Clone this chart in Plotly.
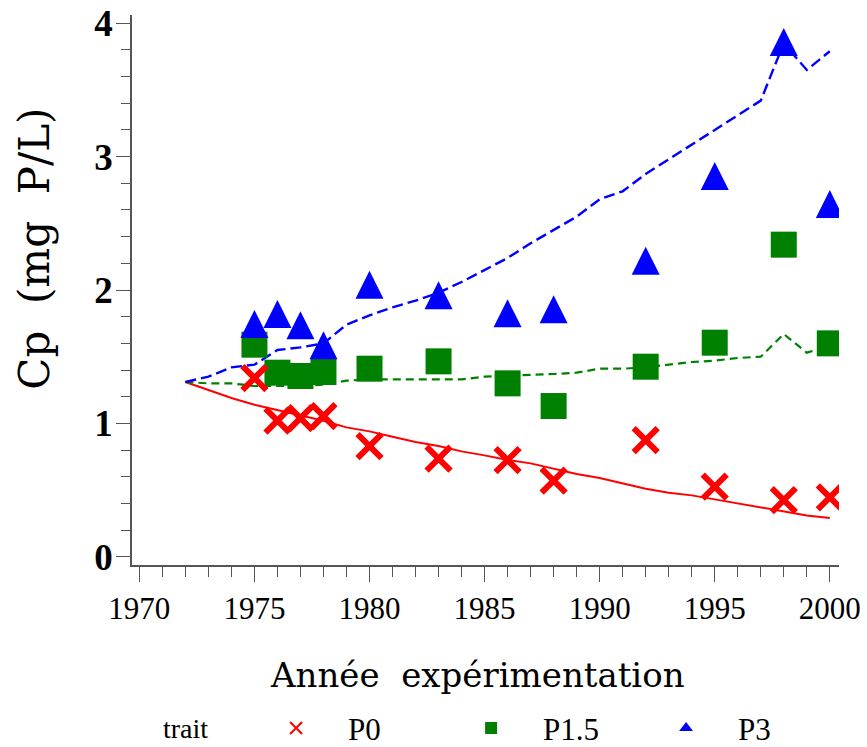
import plotly.graph_objects as go

# Observed phosphorus concentration per treatment
obs_years = [1975, 1976, 1977, 1978, 1980, 1983, 1986, 1988, 1992, 1995, 1998, 2000]
p0_obs = [1.34, 1.02, 1.04, 1.055, 0.83, 0.735, 0.725, 0.57, 0.875, 0.525, 0.425, 0.445]
p15_obs = [1.59, 1.38, 1.355, 1.385, 1.41, 1.465, 1.30, 1.13, 1.425, 1.605, 2.34, 1.60]
p3_obs = [1.745, 1.82, 1.735, 1.585, 2.04, 1.96, 1.825, 1.855, 2.22, 2.855, 3.86, 2.645]

# Simulated annual trajectories
model_years = [1972, 1973, 1974, 1975, 1976, 1977, 1978, 1979, 1980, 1981,
               1982, 1983, 1984, 1985, 1986, 1987, 1988, 1989, 1990, 1991,
               1992, 1993, 1994, 1995, 1996, 1997, 1998, 1999, 2000]
p0_model = [1.31, 1.25, 1.19, 1.14, 1.10, 1.06, 1.02, 0.97, 0.94, 0.90,
            0.86, 0.83, 0.79, 0.76, 0.725, 0.70, 0.66, 0.62, 0.59, 0.55,
            0.51, 0.48, 0.46, 0.43, 0.40, 0.37, 0.34, 0.31, 0.29]
p15_model = [1.31, 1.30, 1.30, 1.28, 1.28, 1.28, 1.29, 1.32, 1.33, 1.33,
             1.33, 1.33, 1.33, 1.35, 1.355, 1.36, 1.37, 1.38, 1.41, 1.41,
             1.42, 1.44, 1.46, 1.47, 1.49, 1.50, 1.67, 1.53, 1.58]
p3_model = [1.31, 1.35, 1.42, 1.44, 1.55, 1.57, 1.60, 1.74, 1.81, 1.87,
            1.92, 1.98, 2.06, 2.15, 2.24, 2.35, 2.45, 2.55, 2.68, 2.74,
            2.87, 2.98, 3.09, 3.20, 3.31, 3.42, 3.85, 3.65, 3.79]

RED = "#ff0000"
GREEN = "#008000"
BLUE = "#0000ff"
AXIS = "#555555"
SERIF = "Liberation Serif"
TITLE_FONT = "DejaVu Serif"

fig = go.Figure()

# model curves
fig.add_trace(go.Scatter(x=model_years, y=p0_model, mode="lines",
                         line=dict(color=RED, width=2), showlegend=False))
fig.add_trace(go.Scatter(x=model_years, y=p15_model, mode="lines",
                         line=dict(color=GREEN, width=2.2, dash="8px,5px"),
                         showlegend=False))
fig.add_trace(go.Scatter(x=model_years, y=p3_model, mode="lines",
                         line=dict(color=BLUE, width=2.4, dash="11px,5px"),
                         showlegend=False))

# observations
fig.add_trace(go.Scatter(x=obs_years, y=p15_obs, mode="markers",
                         marker=dict(symbol="square", size=26, color=GREEN,
                                     line=dict(width=0)),
                         showlegend=False))
fig.add_trace(go.Scatter(x=obs_years, y=p0_obs, mode="markers",
                         marker=dict(symbol="x-thin", size=24,
                                     line=dict(width=6, color=RED), color=RED),
                         showlegend=False))
fig.add_trace(go.Scatter(x=obs_years, y=p3_obs, mode="markers",
                         marker=dict(symbol="arrow-down", size=28, color=BLUE,
                                     angle=180, standoff=14,
                                     line=dict(width=0)),
                         showlegend=False))

# legend entries
fig.add_trace(go.Scatter(x=[None], y=[None], mode="markers", name="P0",
                         marker=dict(symbol="x-thin", size=12,
                                     line=dict(width=3, color=RED), color=RED)))
fig.add_trace(go.Scatter(x=[None], y=[None], mode="markers", name="P1.5",
                         marker=dict(symbol="square", size=12, color=GREEN)))
fig.add_trace(go.Scatter(x=[None], y=[None], mode="markers", name="P3",
                         marker=dict(symbol="triangle-up", size=13, color=BLUE)))

fig.update_layout(
    width=867, height=747,
    margin=dict(l=132, r=28, t=15, b=182, autoexpand=False),
    plot_bgcolor="white", paper_bgcolor="white",
    showlegend=True,
    legend=dict(
        orientation="h", x=0.041, xanchor="left", y=-0.297, yanchor="middle",
        title=dict(text="trait&nbsp;&nbsp;&nbsp;&nbsp;",
                   font=dict(family=SERIF, size=28, color="black")),
        font=dict(family=SERIF, size=31, color="black"),
        itemsizing="constant", itemwidth=94,
        entrywidth=86, entrywidthmode="pixels",
    ),
    annotations=[
        dict(text="Année  expérimentation", xref="paper", yref="paper",
             x=0.489, y=-0.2, xanchor="center", yanchor="middle", showarrow=False,
             font=dict(family=TITLE_FONT, size=34, color="black")),
        dict(text="Cp  (mg  P/L)", xref="paper", yref="paper", textangle=-90,
             x=-0.139, y=0.5745, xanchor="center", yanchor="middle", showarrow=False,
             font=dict(family=TITLE_FONT, size=42, color="black")),
    ],
)

fig.update_xaxes(
    range=[1969.68, 2000.4], tick0=1970, dtick=5,
    showline=True, linecolor=AXIS, linewidth=1.5,
    ticks="outside", ticklen=15, tickwidth=1.3, tickcolor=AXIS,
    minor=dict(dtick=1, ticks="outside", ticklen=10, tickwidth=1.3, tickcolor=AXIS),
    showgrid=False, zeroline=False,
    tickfont=dict(family=SERIF, size=31, color="black"),
)
fig.update_yaxes(
    range=[-0.062, 4.062], tick0=0, dtick=1,
    showline=True, linecolor=AXIS, linewidth=1.5,
    ticks="outside", ticklen=14, tickwidth=1.3, tickcolor=AXIS,
    minor=dict(dtick=0.2, ticks="outside", ticklen=9, tickwidth=1.3, tickcolor=AXIS),
    showgrid=False, zeroline=False, ticklabelstandoff=-4,
    tickfont=dict(family=SERIF, size=37, color="black", weight="bold"),
)

fig.write_html("out.html")
